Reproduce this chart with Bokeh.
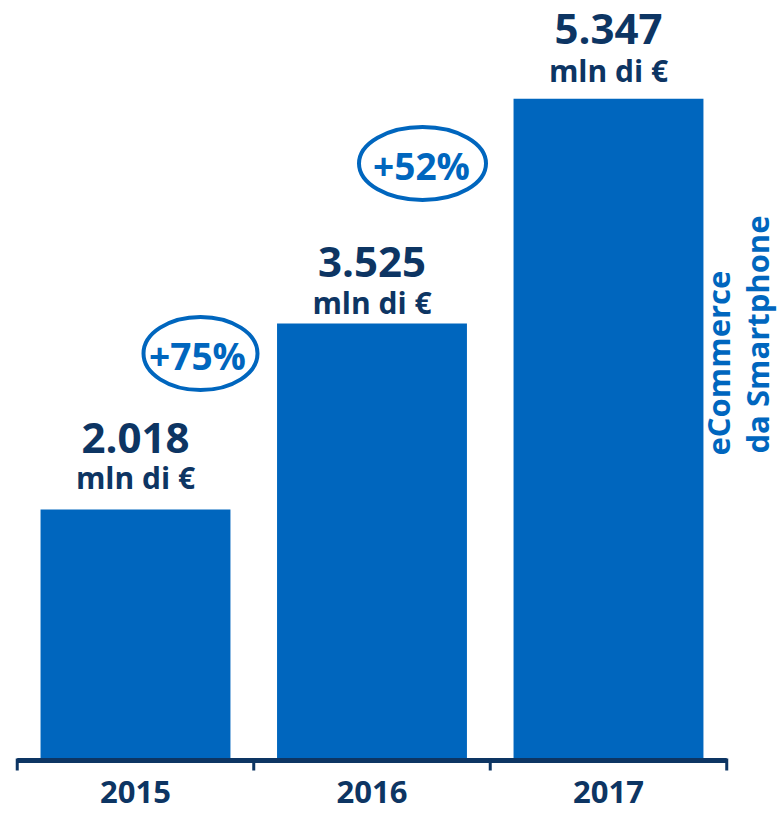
from bokeh.plotting import figure
from bokeh.models import Range1d
from bokeh.core.properties import value
from bokeh.embed import file_html
from bokeh.resources import INLINE

# ---- data ----
years = ["2015", "2016", "2017"]
amounts = [2018, 3525, 5347]          # mln di €
unit_label = "mln di €"
side_title = ["eCommerce", "da Smartphone"]

# ---- style ----
BLUE = "#0066BE"
NAVY = "#0D3563"
FONT = value("Open Sans")
BASE_FIX = 0.36  # alphabetic-baseline correction, in em

W, H = 780, 813
X0, X1 = -0.5708, 2.7273
Y0, Y1 = -445.7, 6142.6
SX = W / (X1 - X0)
SY = H / (Y1 - Y0)


def dx(px):  # picture x -> data x
    return X0 + px / SX


def dy(py):  # picture y -> data y
    return Y1 - py / SY


p = figure(width=W, height=H, output_backend="svg", toolbar_location=None,
           x_range=Range1d(X0, X1), y_range=Range1d(Y0, Y1),
           min_border=0, outline_line_color=None, background_fill_color="white")
p.axis.visible = False
p.grid.visible = False

xs = list(range(len(years)))

# bars
p.vbar(x=xs, top=amounts, bottom=0, width=0.803, fill_color=BLUE, line_color=None)

# value labels (gaps in px between bar top and text baseline)
NUM_FS, UNIT_FS = 42, 30
num_gap_px = [56, 46, 55]
unit_gap_px = [21, 10, 17]
num_txt = [f"{v:,}".replace(",", ".") for v in amounts]
p.text(x=xs, y=[v + (g + BASE_FIX * NUM_FS) / SY for v, g in zip(amounts, num_gap_px)],
       text=num_txt,
       text_font=FONT, text_font_style="bold", text_font_size=f"{NUM_FS}px",
       text_color=NAVY, text_align="center", text_baseline="alphabetic")
p.text(x=xs, y=[v + (g + BASE_FIX * UNIT_FS) / SY for v, g in zip(amounts, unit_gap_px)],
       text=[unit_label] * len(xs),
       text_font=FONT, text_font_style="bold", text_font_size=f"{UNIT_FS}px",
       text_color=NAVY, text_align="center", text_baseline="alphabetic")

# growth ellipses
PCT_FS = 37
growth = [f"+{round((amounts[i + 1] / amounts[i] - 1) * 100)}%" for i in range(len(amounts) - 1)]
ell_cx = [dx(200), dx(422)]
ell_cy = [dy(353), dy(163)]
ell_w = [114, 127]
ell_h = [73, 73]
p.ellipse(x=ell_cx, y=ell_cy, width=ell_w, height=ell_h,
          width_units="screen", height_units="screen",
          fill_color=None, line_color=BLUE, line_width=4)
p.text(x=[dx(197), dx(421)], y=[c - (15 - BASE_FIX * PCT_FS) / SY for c in ell_cy], text=growth,
       text_font=FONT, text_font_style="bold", text_font_size=f"{PCT_FS}px",
       text_color=BLUE, text_align="center", text_baseline="alphabetic")

# x axis line and boundary ticks
left, right = xs[0] - 0.5, xs[-1] + 0.5
p.segment(x0=[left], x1=[right], y0=[dy(760)], y1=[dy(760)],
          line_color=NAVY, line_width=5, line_cap="butt")
bounds = [i - 0.5 for i in range(len(xs) + 1)]
p.segment(x0=bounds, x1=bounds, y0=[dy(758)] * len(bounds), y1=[dy(770)] * len(bounds),
          line_color=NAVY, line_width=3, line_cap="butt")

# year labels
YEAR_FS = 31
p.text(x=xs, y=[dy(803 - BASE_FIX * YEAR_FS)] * len(xs), text=years,
       text_font=FONT, text_font_style="bold", text_font_size=f"{YEAR_FS}px",
       text_color=NAVY, text_align="center", text_baseline="alphabetic")

# vertical side title (rotated: baseline lies on the right side)
SIDE_FS = 31
p.text(x=[dx(729 - BASE_FIX * SIDE_FS), dx(768 - BASE_FIX * SIDE_FS)], y=[dy(455), dy(453)],
       text=side_title,
       angle=1.5707963, text_font=FONT, text_font_style="bold", text_font_size=f"{SIDE_FS}px",
       text_color=BLUE, text_align="left", text_baseline="alphabetic")

open("out.html", "w").write(file_html(p, INLINE))
